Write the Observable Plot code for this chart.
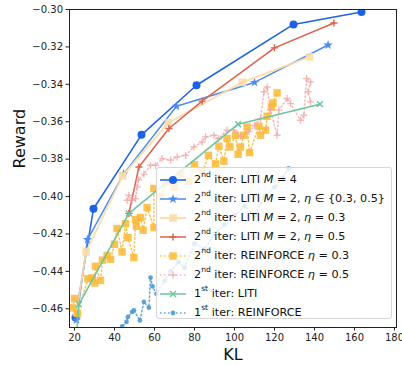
<!DOCTYPE html>
<html>
<head>
<meta charset="utf-8">
<script src="https://cdn.jsdelivr.net/npm/d3@7"></script>
<script src="https://cdn.jsdelivr.net/npm/@observablehq/plot@0.6"></script>
<style>
  body { margin: 0; background: #fff; font-family: "DejaVu Sans", sans-serif; }
  #wrap { position: relative; width: 402px; height: 365px; }
  #legend { position: absolute; left: 156px; top: 167px; width: 236px; height: 152px;
    background: rgba(255,255,255,0.8); border: 1px solid #d6d6d6; border-radius: 3px;
    box-sizing: border-box; padding-top: 2px; }
  .row { height: 19px; display: flex; align-items: center; font-size: 11.2px; color: #111; white-space: nowrap; }
  .row svg { margin-left: 2px; margin-right: 7px; flex: none; }
  sup { font-size: 0.68em; line-height: 0; position: relative; top: -0.15em; }
  i { font-style: italic; }
</style>
</head>
<body>
<div id="wrap"></div>
<script>
// ---------- data ----------
const m4KL = [20.5, 29.5, 53.5, 81, 129.5, 163.5];
const m4Reward = [-0.4647, -0.4065, -0.367, -0.3405, -0.308, -0.3013];

const m2BothKL = [21, 26.5, 44.5, 71, 110, 146.8];
const m2BothReward = [-0.466, -0.423, -0.388, -0.3517, -0.339, -0.319];

const m2Eta03KL = [21, 25.8, 44, 67, 104, 137.5];
const m2Eta03Reward = [-0.462, -0.4296, -0.389, -0.3605, -0.3389, -0.3253];

const m2Eta05KL = [47.2, 52.2, 67.2, 83.8, 120, 149.7];
const m2Eta05Reward = [-0.409, -0.3842, -0.3636, -0.349, -0.3205, -0.3072];

const rf03KL = [20, 19, 21.5, 26.7, 28.8, 30.2, 30.5, 33, 34, 36.3, 38, 40, 41.3, 43.8, 45.5, 46.7, 49.7, 50.5, 51, 53, 54.3, 56.3, 59.7, 59.7, 63, 66, 70, 73, 77, 80, 84, 87, 90.5, 92.2, 94.7, 96.3, 97.7, 100.5, 101.8, 103, 104.7, 106.3, 107.5, 112.2, 113, 115.5, 116.3, 118.5, 119.3, 121.3];
const rf03Reward = [-0.4545, -0.4595, -0.4625, -0.4439, -0.4435, -0.4462, -0.4373, -0.4448, -0.434, -0.4315, -0.4335, -0.4255, -0.4171, -0.4296, -0.4145, -0.422, -0.4326, -0.4123, -0.4159, -0.4112, -0.418, -0.4059, -0.4166, -0.3957, -0.400, -0.392, -0.395, -0.388, -0.392, -0.383, -0.387, -0.378, -0.3825, -0.3731, -0.3811, -0.369, -0.3735, -0.3672, -0.3774, -0.3735, -0.3672, -0.3628, -0.3765, -0.3624, -0.3672, -0.3645, -0.3571, -0.3521, -0.35, -0.3446];

const rf05KL = [46.3, 47.2, 48.8, 50.5, 51.3, 52, 54.7, 58, 60.5, 63.8, 68, 71.3, 75.5, 79.7, 83.8, 85.5, 89.7, 92, 96.3, 99.7, 103, 107.2, 110, 113, 114.7, 116.3, 118, 121.3, 122.2, 126.3, 128, 133, 134.7, 136, 138, 136.8, 138];
const rf05Reward = [-0.402, -0.3993, -0.402, -0.4011, -0.3949, -0.391, -0.388, -0.3833, -0.3833, -0.3797, -0.3805, -0.3788, -0.378, -0.3735, -0.3708, -0.3681, -0.3672, -0.369, -0.3645, -0.3645, -0.368, -0.3654, -0.362, -0.3584, -0.344, -0.3414, -0.3538, -0.3672, -0.3538, -0.3476, -0.3503, -0.3592, -0.3565, -0.3369, -0.3387, -0.344, -0.3494];

const liti1KL = [20.5, 22.2, 47.2, 101.8, 142.7];
const liti1Reward = [-0.48, -0.4576, -0.409, -0.3613, -0.3506];

const rf1KL = [42, 43.8, 46, 46.7, 48.8, 49.7, 52.7, 54.7, 57.2, 58, 59, 61, 65, 68, 72, 75, 80, 85, 90, 95, 100, 105, 110, 115, 120, 124, 127];
const rf1Reward = [-0.475, -0.4694, -0.467, -0.4644, -0.4617, -0.4608, -0.4662, -0.4563, -0.4594, -0.4433, -0.448, -0.452, -0.445, -0.44, -0.435, -0.438, -0.425, -0.428, -0.42, -0.415, -0.41, -0.405, -0.41, -0.40, -0.395, -0.39, -0.385];

const xTicks = [20, 40, 60, 80, 100, 120, 140, 160, 180];
const yTicks = [-0.46, -0.44, -0.42, -0.40, -0.38, -0.36, -0.34, -0.32, -0.30];

// ---------- series styles ----------
const series = [
  {kl: m4KL, rw: m4Reward, color: "#1b62e4", symbol: "circle", r: 4, dash: null, lw: 1.5, op: 1, sop: 1,
   label: '2<sup>nd</sup> iter: LITI <i>M</i> = 4'},
  {kl: m2BothKL, rw: m2BothReward, color: "#4b8cef", symbol: "star", r: 3, dash: null, lw: 1.5, op: 1, sop: 1,
   label: '2<sup>nd</sup> iter: LITI <i>M</i> = 2, <i>η</i> ∈ {0.3, 0.5}'},
  {kl: m2Eta03KL, rw: m2Eta03Reward, color: "#fcdcaa", symbol: "square", r: 4.3, dash: null, lw: 2, op: 0.9, sop: 0.9,
   label: '2<sup>nd</sup> iter: LITI <i>M</i> = 2, <i>η</i> = 0.3'},
  {kl: m2Eta05KL, rw: m2Eta05Reward, color: "#e0604c", symbol: "plus", r: 2.4, dash: null, lw: 1.5, op: 1, sop: 1,
   label: '2<sup>nd</sup> iter: LITI <i>M</i> = 2, <i>η</i> = 0.5'},
  {kl: rf03KL, rw: rf03Reward, color: "#fbb935", symbol: "square", r: 4.2, dash: "1.5,2.5", lw: 1.5, op: 0.85, sop: 0.85,
   label: '2<sup>nd</sup> iter: REINFORCE <i>η</i> = 0.3'},
  {kl: rf05KL, rw: rf05Reward, color: "#f2a3a3", symbol: "plus", r: 2.4, dash: "1.5,2.5", lw: 1.5, op: 0.75, sop: 0.75,
   label: '2<sup>nd</sup> iter: REINFORCE <i>η</i> = 0.5'},
  {kl: liti1KL, rw: liti1Reward, color: "#6cc499", symbol: "times", r: 2.8, dash: null, lw: 1.5, op: 1, sop: 1,
   label: '1<sup>st</sup> iter: LITI'},
  {kl: rf1KL, rw: rf1Reward, color: "#4f9bd3", symbol: "circle", r: 2.4, dash: "1.5,2.5", lw: 1.5, op: 0.9, sop: 0.9,
   label: '1<sup>st</sup> iter: REINFORCE'}
];

const strokeOnly = new Set(["plus", "times"]);
const marks = [];
for (const s of series) {
  const rows = s.kl.map((k, i) => ({kl: k, reward: s.rw[i]}));
  marks.push(Plot.line(rows, {x: "kl", y: "reward", stroke: s.color, strokeWidth: s.lw,
    strokeDasharray: s.dash || undefined, strokeOpacity: s.op, clip: true}));
  const so = strokeOnly.has(s.symbol);
  marks.push(Plot.dot(rows, {x: "kl", y: "reward", symbol: s.symbol, r: s.r,
    fill: so ? "none" : s.color, stroke: so ? s.color : "none", strokeWidth: so ? 1.4 : 0,
    fillOpacity: s.sop, strokeOpacity: s.sop, clip: true}));
}

const chart = Plot.plot({
  width: 402, height: 365,
  marginLeft: 69, marginRight: 6, marginTop: 9, marginBottom: 38,
  style: {fontFamily: "DejaVu Sans, sans-serif", background: "#fff", color: "#222"},
  x: {domain: [17.5, 181]},
  y: {domain: [-0.47, -0.30]},
  marks: [
    ...marks,
    Plot.frame({stroke: "#222", strokeWidth: 1}),
    Plot.axisX({ticks: xTicks, tickSize: 3.5, tickPadding: 3, fontSize: 10, label: null, tickFormat: d3.format("d")}),
    Plot.axisY({ticks: yTicks, tickSize: 3.5, tickPadding: 3, fontSize: 10, label: null, tickFormat: d3.format(".2f")}),
    Plot.text(["KL"], {frameAnchor: "bottom", lineAnchor: "middle", dy: 27, fontSize: 16, fill: "#111"}),
    Plot.text(["Reward"], {frameAnchor: "left", dx: -50, rotate: -90, fontSize: 16, fill: "#111"})
  ]
});
const wrap = document.getElementById("wrap");
wrap.appendChild(chart);

// ---------- legend ----------
const symMap = {circle: d3.symbolCircle, star: d3.symbolStar, square: d3.symbolSquare, plus: d3.symbolPlus, times: d3.symbolTimes};
const legend = document.createElement("div");
legend.id = "legend";
for (const s of series) {
  const row = document.createElement("div");
  row.className = "row";
  const so = strokeOnly.has(s.symbol);
  const path = d3.symbol(symMap[s.symbol], Math.PI * s.r * s.r)();
  row.innerHTML =
    `<svg width="28" height="12" viewBox="0 0 28 12">
      <line x1="1" x2="27" y1="6" y2="6" stroke="${s.color}" stroke-width="${s.lw}" ${s.dash ? `stroke-dasharray="${s.dash}"` : ""} stroke-opacity="${s.op}"/>
      <path transform="translate(14,6)" d="${path}" fill="${so ? "none" : s.color}" stroke="${so ? s.color : "none"}" stroke-width="1.4" opacity="${s.sop}"/>
    </svg><span>${s.label}</span>`;
  legend.appendChild(row);
}
wrap.appendChild(legend);
</script>
</body>
</html>
